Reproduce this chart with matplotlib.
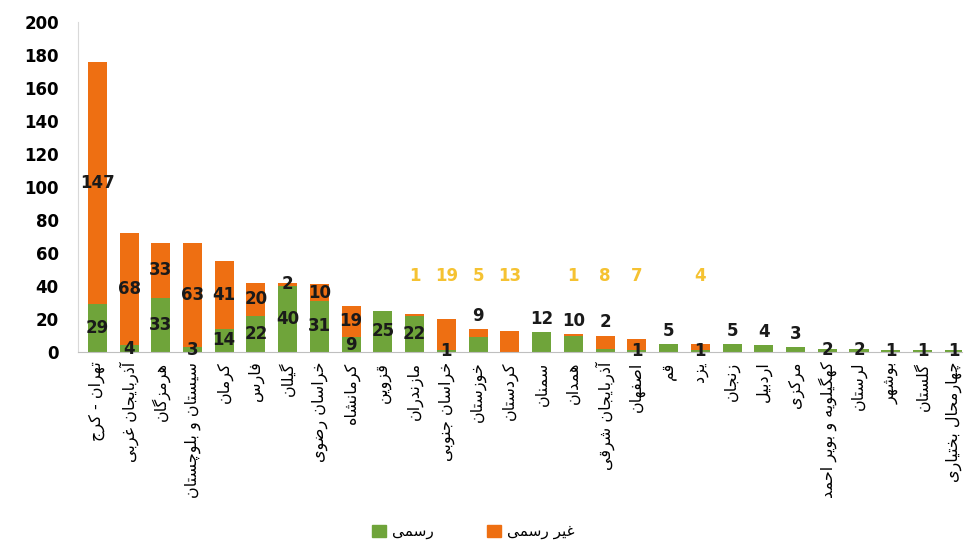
import matplotlib
matplotlib.use('Agg')
import matplotlib.pyplot as plt
from matplotlib.patches import Patch
import numpy as np

# provinces, left to right
names = ['تهران - کرج', 'آذربایجان غربی', 'هرمزگان', 'سیستان و بلوچستان', 'کرمان',
         'فارس', 'گیلان', 'خراسان رضوی', 'کرمانشاه', 'قزوین', 'مازندران',
         'خراسان جنوبی', 'خوزستان', 'کردستان', 'سمنان', 'همدان', 'آذربایجان شرقی',
         'اصفهان', 'قم', 'یزد', 'زنجان', 'اردبیل', 'مرکزی', 'کهگیلویه و بویر احمد',
         'لرستان', 'بوشهر', 'گلستان', 'چهارمحال بختیاری']
rasmi = [29, 4, 33, 3, 14, 22, 40, 31, 9, 25, 22, 1, 9, 0, 12, 10, 2, 1, 5, 1, 5, 4, 3, 2, 2, 1, 1, 1]
gheir_rasmi = [147, 68, 33, 63, 41, 20, 2, 10, 19, 0, 1, 19, 5, 13, 0, 1, 8, 7, 0, 4, 0, 0, 0, 0, 0, 0, 0, 0]
legend_labels = ['رسمی', 'غیر رسمی']
yticks = list(range(0, 201, 20))

GREEN = '#6FA43A'
ORANGE = '#EE6F12'
YELLOW = '#F5C232'

# matplotlib does no arabic shaping, so do a small one by hand
FORMS = {
    'ا': (0xFE8D, 0xFE8E, None, None), 'آ': (0xFE81, 0xFE82, None, None),
    'ب': (0xFE8F, 0xFE90, 0xFE91, 0xFE92), 'پ': (0xFB56, 0xFB57, 0xFB58, 0xFB59),
    'ت': (0xFE95, 0xFE96, 0xFE97, 0xFE98), 'ج': (0xFE9D, 0xFE9E, 0xFE9F, 0xFEA0),
    'چ': (0xFB7A, 0xFB7B, 0xFB7C, 0xFB7D), 'ح': (0xFEA1, 0xFEA2, 0xFEA3, 0xFEA4),
    'خ': (0xFEA5, 0xFEA6, 0xFEA7, 0xFEA8), 'د': (0xFEA9, 0xFEAA, None, None),
    'ذ': (0xFEAB, 0xFEAC, None, None), 'ر': (0xFEAD, 0xFEAE, None, None),
    'ز': (0xFEAF, 0xFEB0, None, None), 'ژ': (0xFB8A, 0xFB8B, None, None),
    'س': (0xFEB1, 0xFEB2, 0xFEB3, 0xFEB4), 'ش': (0xFEB5, 0xFEB6, 0xFEB7, 0xFEB8),
    'ص': (0xFEB9, 0xFEBA, 0xFEBB, 0xFEBC), 'ض': (0xFEBD, 0xFEBE, 0xFEBF, 0xFEC0),
    'ط': (0xFEC1, 0xFEC2, 0xFEC3, 0xFEC4), 'ع': (0xFEC9, 0xFECA, 0xFECB, 0xFECC),
    'غ': (0xFECD, 0xFECE, 0xFECF, 0xFED0), 'ف': (0xFED1, 0xFED2, 0xFED3, 0xFED4),
    'ق': (0xFED5, 0xFED6, 0xFED7, 0xFED8), 'ک': (0xFB8E, 0xFB8F, 0xFB90, 0xFB91),
    'گ': (0xFB92, 0xFB93, 0xFB94, 0xFB95), 'ل': (0xFEDD, 0xFEDE, 0xFEDF, 0xFEE0),
    'م': (0xFEE1, 0xFEE2, 0xFEE3, 0xFEE4), 'ن': (0xFEE5, 0xFEE6, 0xFEE7, 0xFEE8),
    'و': (0xFEED, 0xFEEE, None, None), 'ه': (0xFEE9, 0xFEEA, 0xFEEB, 0xFEEC),
    'ی': (0xFBFC, 0xFBFD, 0xFBFE, 0xFBFF),
}


def shape(word):
    out = []
    for i, c in enumerate(word):
        if c not in FORMS:
            out.append(c)
            continue
        prev = word[i - 1] if i > 0 else None
        nxt = word[i + 1] if i + 1 < len(word) else None
        join_prev = prev in FORMS and FORMS[prev][2] is not None
        join_next = nxt in FORMS and FORMS[c][2] is not None
        iso, fin, ini, med = FORMS[c]
        if join_prev and join_next:
            g = med
        elif join_prev:
            g = fin
        elif join_next:
            g = ini
        else:
            g = iso
        out.append(chr(g))
    return ''.join(reversed(out))


fig = plt.figure(figsize=(9.66, 5.5), dpi=100)
ax = fig.add_axes([0.081, 0.36, 0.915, 0.60])

x = np.arange(len(names))
g = np.array(rasmi)
o = np.array(gheir_rasmi)
ax.bar(x, g, width=0.6, color=GREEN)
ax.bar(x, o, width=0.6, bottom=g, color=ORANGE)

# data labels (placed roughly like the excel original)
for i in range(len(names)):
    total = g[i] + o[i]
    if g[i] > 0:
        if 2 < total < 20 and g[i] >= 2:
            yg = total + 8
        else:
            yg = g[i] / 2
        ax.text(x[i], yg, str(g[i]), ha='center', va='center',
                fontsize=12, fontweight='bold', color='#1a1a1a')
    if o[i] > 0:
        if total >= 25:
            ax.text(x[i], g[i] + o[i] / 2, str(o[i]), ha='center', va='center',
                    fontsize=12, fontweight='bold', color='#1a1a1a')
        else:
            ax.text(x[i], 46, str(o[i]), ha='center', va='center',
                    fontsize=12, fontweight='bold', color=YELLOW)

ax.set_xlim(-0.6, len(names) - 0.75)
ax.set_ylim(0, 200)
ax.set_yticks(yticks)
ax.set_yticklabels([str(t) for t in yticks], fontsize=12, fontweight='bold')
ax.set_xticks(x)
ax.set_xticklabels([shape(n) for n in names], rotation=90, fontsize=11.5,
                   family='DejaVu Sans')
ax.tick_params(length=0)
ax.tick_params(axis='x', pad=7)
ax.tick_params(axis='y', pad=14)
for s in ['top', 'right']:
    ax.spines[s].set_visible(False)
ax.spines['left'].set_color('#d9d9d9')
ax.spines['bottom'].set_color('#bfbfbf')

handles = [Patch(color=GREEN), Patch(color=ORANGE)]
fig.legend(handles, [shape(legend_labels[0]), shape(legend_labels[1])],
           loc='center', bbox_to_anchor=(0.49, 0.033), ncol=2, frameon=False,
           handlelength=0.9, handleheight=0.9,
           columnspacing=3.5, handletextpad=0.4, prop={'size': 11})

fig.savefig('out.png', dpi=100)
